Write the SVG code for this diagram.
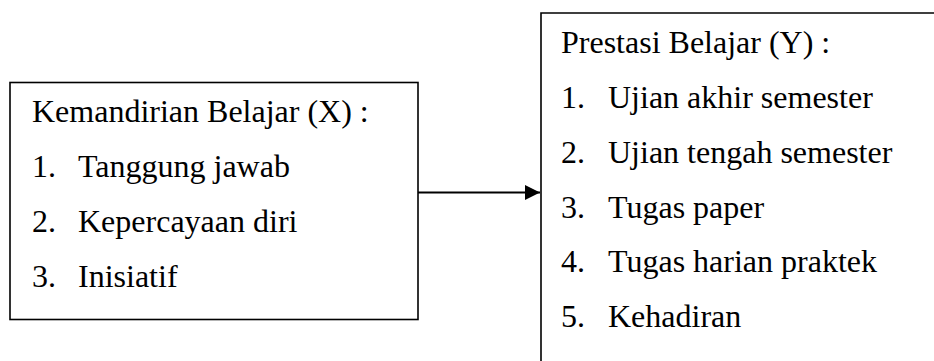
<svg xmlns="http://www.w3.org/2000/svg" width="934" height="361" viewBox="0 0 934 361">
<style>
.box{fill:none;stroke:#000;stroke-width:1.6}
.t{font-family:"Liberation Serif","Times New Roman",serif;font-size:32px;fill:#000}
.c{stroke:#000;stroke-width:2.2;fill:none}
</style>
<defs>
<marker id="ah" viewBox="0 0 10 10" refX="10" refY="5" markerWidth="15" markerHeight="15" markerUnits="userSpaceOnUse" orient="auto">
<path d="M0,0 L10,5 L0,10 z" fill="#000"/>
</marker>
</defs>
<rect width="934" height="361" fill="#fff"/>
<g id="nodeX">
<rect class="box" x="10" y="82.5" width="408" height="237"/>
<text class="t" x="32" y="122">Kemandirian Belajar (X) :</text>
<text class="t" x="32" y="177">1.</text><text class="t" x="78" y="177">Tanggung jawab</text>
<text class="t" x="32" y="232">2.</text><text class="t" x="78" y="232">Kepercayaan diri</text>
<text class="t" x="32" y="287">3.</text><text class="t" x="78" y="287">Inisiatif</text>
</g>
<g id="nodeY">
<path class="box" d="M934,13 H541 V361"/>
<text class="t" x="561" y="53">Prestasi Belajar (Y) :</text>
<text class="t" x="561" y="108">1.</text><text class="t" x="608" y="108">Ujian akhir semester</text>
<text class="t" x="561" y="163">2.</text><text class="t" x="608" y="163">Ujian tengah semester</text>
<text class="t" x="561" y="218">3.</text><text class="t" x="608" y="218">Tugas paper</text>
<text class="t" x="561" y="272">4.</text><text class="t" x="608" y="272">Tugas harian praktek</text>
<text class="t" x="561" y="327">5.</text><text class="t" x="608" y="327">Kehadiran</text>
</g>
<g id="connectors">
<line class="c" x1="418" y1="192.5" x2="540" y2="192.5" marker-end="url(#ah)"/>
</g>
</svg>
